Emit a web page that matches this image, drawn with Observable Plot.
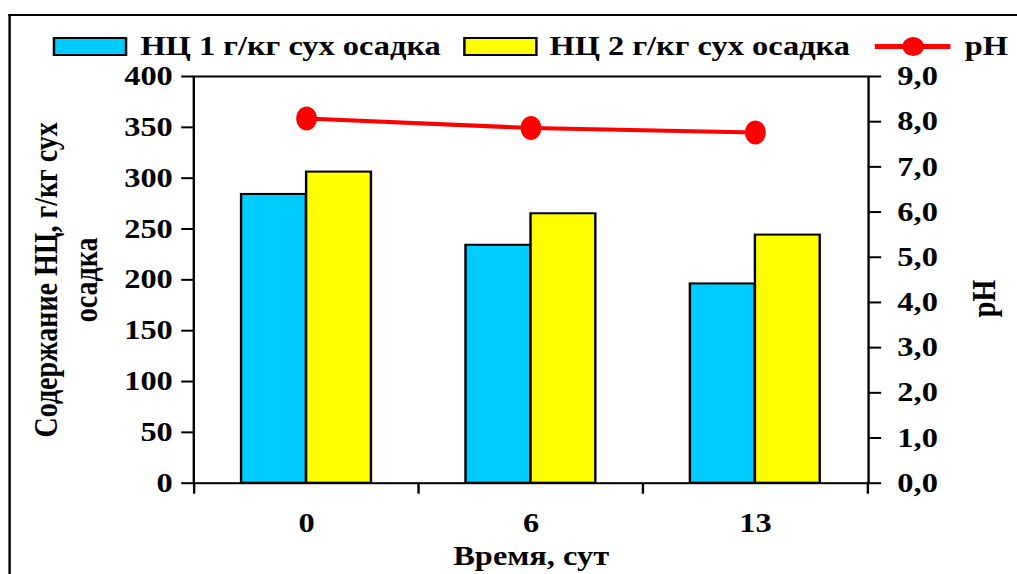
<!DOCTYPE html>
<html><head><meta charset="utf-8">
<script src="https://cdn.jsdelivr.net/npm/d3@7"></script>
<script src="https://cdn.jsdelivr.net/npm/@observablehq/plot@0.6"></script>
<style>
body{margin:0;background:#fff;overflow:hidden}
#wrap{position:absolute;left:0;top:0;width:848px;height:574px;transform:scaleX(1.2);transform-origin:0 0;font-family:"Liberation Serif",serif;font-weight:bold}
#border{position:absolute;left:7px;top:14px;width:900px;height:600px;border-left:2px solid #000;border-top:2px solid #000}
.lg{position:absolute;font-size:27px;line-height:28px;white-space:nowrap;top:32px}
.sw{position:absolute;top:37px;height:19px;box-sizing:border-box;border:2px solid #000}
#chart{position:absolute;left:0;top:62px}
</style></head><body>
<div id="wrap"><div id="border"></div><div id="legend"></div><div id="chart"></div></div>
<script>
// ---- data ----
const times = ["0", "6", "13"];
const nc1 = [284, 234, 196];
const nc2 = [306, 265, 244];
const ph = [8.07, 7.86, 7.76];
const leftTicks = [0, 50, 100, 150, 200, 250, 300, 350, 400];
const rightTicks = [0, 1, 2, 3, 4, 5, 6, 7, 8, 9];
const seriesNames = ["НЦ 1 г/кг сух осадка", "НЦ 2 г/кг сух осадка", "pH"];
const colors = ["#00CCFF", "#FFFF00", "#FF0000"];
const yTitle = "Содержание НЦ, г/кг сух\nосадка";
const xTitle = "Время, сут";
const y2Title = "pH";

const k = 400 / 9; // pH -> left axis units
const rows = times.map((t, i) => ({t, nc1: nc1[i], nc2: nc2[i], ph: ph[i]}));

// ---- legend (HTML) ----
const legend = document.getElementById("legend");
legend.innerHTML = `
 <div class="sw" style="left:44px;width:62px;background:${colors[0]}"></div>
 <div class="lg" style="left:117px">${seriesNames[0]}</div>
 <div class="sw" style="left:386px;width:62px;background:${colors[1]}"></div>
 <div class="lg" style="left:458px">${seriesNames[1]}</div>
 <div style="position:absolute;left:729px;top:44px;width:63px;height:5px;background:${colors[2]}"></div>
 <div style="position:absolute;left:752px;top:37px;width:18px;height:19px;border-radius:50%;background:${colors[2]}"></div>
 <div class="lg" style="left:804px">${seriesNames[2]}</div>`;

// ellipse symbol (slightly taller than wide)
const ellipse = {draw(ctx, size) {
  const r = Math.sqrt(size / Math.PI), rx = r * 0.72, ry = r, c = 0.5523;
  ctx.moveTo(rx, 0);
  ctx.bezierCurveTo(rx, c * ry, c * rx, ry, 0, ry);
  ctx.bezierCurveTo(-c * rx, ry, -rx, c * ry, -rx, 0);
  ctx.bezierCurveTo(-rx, -c * ry, -c * rx, -ry, 0, -ry);
  ctx.bezierCurveTo(c * rx, -ry, rx, -c * ry, rx, 0);
  ctx.closePath();
}};

const W = 848, H = 512, mL = 161, mR = 124.7, mT = 14, mB = 91.3;
const step = (W - mL - mR) / times.length;
const bw = 54.2;

const plot = Plot.plot({
  width: W, height: H,
  marginLeft: mL, marginRight: mR, marginTop: mT, marginBottom: mB,
  style: {fontFamily: "Liberation Serif", fontWeight: "bold", fontSize: "27px", background: "transparent", overflow: "visible", color: "#000"},
  x: {type: "band", domain: times, paddingInner: 1 - bw / step, paddingOuter: (1 - bw / step) / 2, align: 0.5, axis: null},
  y: {domain: [0, 400], axis: null},
  marks: [
    Plot.barY(rows, {x: "t", y: "nc1", dx: -bw / 2, fill: colors[0], stroke: "#000", strokeWidth: 2}),
    Plot.barY(rows, {x: "t", y: "nc2", dx: bw / 2, fill: colors[1], stroke: "#000", strokeWidth: 2}),
    Plot.frame({stroke: "#000", strokeWidth: 2}),
    Plot.axisY({anchor: "left", ticks: leftTicks, tickSize: 10, tickPadding: 7.5, strokeWidth: 2, fontSize: 27, label: null}),
    Plot.axisY({anchor: "right", ticks: rightTicks.map(v => v * k), tickFormat: v => (v / k).toFixed(1).replace(".", ","), tickSize: 10, tickPadding: 14, strokeWidth: 2, fontSize: 27, label: null}),
    Plot.axisX({ticks: times, tickSize: 11, tickFormat: () => "", dx: -step / 2, strokeWidth: 2, label: null}),
    Plot.axisX({ticks: times.slice(-1), tickSize: 11, tickFormat: () => "", dx: step / 2, strokeWidth: 2, label: null}),
    Plot.axisX({ticks: times, tickSize: 0, tickPadding: 30, fontSize: 27, label: null}),
    Plot.line(rows, {x: "t", y: d => d.ph * k, stroke: colors[2], strokeWidth: 4}),
    Plot.dot(rows, {x: "t", y: d => d.ph * k, r: 12, symbol: ellipse, fill: colors[2], stroke: "none"}),
    Plot.text([yTitle], {frameAnchor: "left", dx: -108, rotate: -90, textAnchor: "middle", lineAnchor: "middle", lineHeight: 1.18, fontSize: 28}),
    Plot.text([xTitle], {frameAnchor: "bottom", dy: 73, lineAnchor: "middle", fontSize: 27}),
    Plot.text([y2Title], {frameAnchor: "right", dx: 96, rotate: -90, lineAnchor: "middle", fontSize: 28})
  ]
});
document.getElementById("chart").appendChild(plot);
</script>
</body></html>
